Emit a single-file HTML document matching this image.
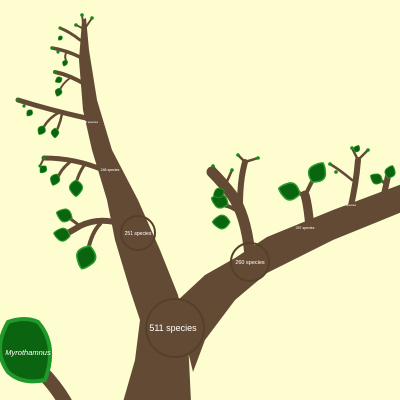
<!DOCTYPE html>
<html><head><meta charset="utf-8"><style>
html,body{margin:0;padding:0;background:#fefdd0;}
svg{display:block}
text{font-family:"Liberation Sans",sans-serif;fill:#fff;}
</style></head><body>
<svg width="400" height="400" viewBox="0 0 400 400">
<defs>
<path id="lp" d="M0,0 Q11,-6 8,-13 Q4,-20 0,-22 Q-4,-20 -8,-13 Q-11,-6 0,0Z" fill="#0b6510" stroke="#2b9b2b" stroke-width="1.5"/>
</defs>
<rect width="400" height="400" fill="#fefdd0"/>
<g fill="none" stroke="#634a34" stroke-linecap="round">
<path d="M125,225 Q100,216 80,226 Q70,232 62,236" stroke-width="6"/>
<path d="M80,226 Q72,220 64,214" stroke-width="3"/>
<path d="M100,224 Q92,232 88,250" stroke-width="4"/>
<path d="M103,170 Q75,158 44,158" stroke-width="5"/>
<path d="M70,162 Q60,170 57,180" stroke-width="3"/>
<path d="M85,164 Q78,174 76,184" stroke-width="3"/>
<path d="M44,158 L40,166" stroke-width="2"/>
<path d="M86,118 Q50,110 18,100" stroke-width="5"/>
<path d="M60,112 Q48,118 42,130" stroke-width="2.5"/>
<path d="M62,114 Q60,124 56,132" stroke-width="2.5"/>
<path d="M86,85 Q70,75 55,72" stroke-width="4"/>
<path d="M70,78 Q62,84 60,90" stroke-width="2"/>
<path d="M82,58 Q66,50 52,48" stroke-width="3.5"/>
<path d="M66,53 Q64,58 67,62" stroke-width="2"/>
<path d="M80,40 Q70,32 60,28" stroke-width="3"/>
<path d="M84,30 L82,15 M84,30 L92,18 M82,28 L76,25" stroke-width="2"/>
<path d="M250,255 Q246,215 232,195 Q222,182 212,172" stroke-width="11"/>
<path d="M240,205 Q240,180 245,162" stroke-width="6"/>
<path d="M225,186 L213,166 M245,162 L238,155 M245,162 L258,158 M225,186 L232,170" stroke-width="2.5"/>
<path d="M236,210 Q228,205 220,205" stroke-width="4"/>
<path d="M232,196 Q226,190 222,190" stroke-width="3"/>
<path d="M310,228 Q308,205 305,195" stroke-width="9"/>
<path d="M305,196 Q298,192 290,190 M305,196 Q310,185 314,178" stroke-width="4"/>
<path d="M350,210 Q356,185 358,160" stroke-width="6"/>
<path d="M352,180 Q340,170 330,164 M358,160 L352,148 M358,160 L368,150" stroke-width="2.5"/>
<path d="M383,198 Q386,186 388,176" stroke-width="6"/>
<path d="M386,184 L378,178" stroke-width="3"/>
<path d="M40,370 Q55,385 65,402" stroke-width="14"/>
</g>
<g fill="#634a34">
<path d="M123,402 L135,360 L140,320 L130,290 L115,240 L107,200 L92,150 L83,110 L79,60 L82,20 L86,18 L89,50 L97,100 L112,150 L138,200 L160,250 L178,295 L188,340 L191,402Z"/>
<path d="M176,302 L205,275 L235,258 L267,237 L333,210 L402,184 L402,212 L333,240 L267,273 L235,300 L205,340 L193,372Z"/>
</g>
<g>
<use href="#lp" transform="translate(90,246) rotate(200) scale(1.1)"/>
<use href="#lp" transform="translate(70,236) rotate(-80) scale(0.75)"/>
<use href="#lp" transform="translate(72,218) rotate(-70) scale(0.75)"/>
<use href="#lp" transform="translate(76,180) rotate(180) scale(0.75)"/>
<use href="#lp" transform="translate(57,174) rotate(200) scale(0.55)"/>
<use href="#lp" transform="translate(46,166) rotate(220) scale(0.4)"/>
<use href="#lp" transform="translate(55,128) rotate(180) scale(0.45)"/>
<use href="#lp" transform="translate(44,126) rotate(210) scale(0.45)"/>
<use href="#lp" transform="translate(32,110) rotate(220) scale(0.35)"/>
<use href="#lp" transform="translate(60,88) rotate(200) scale(0.4)"/>
<use href="#lp" transform="translate(62,78) rotate(240) scale(0.35)"/>
<use href="#lp" transform="translate(66,60) rotate(200) scale(0.3)"/>
<use href="#lp" transform="translate(62,36) rotate(220) scale(0.25)"/>
<use href="#lp" transform="translate(230,222) rotate(-90) scale(0.8)"/>
<use href="#lp" transform="translate(228,204) rotate(-70) scale(0.8)"/>
<use href="#lp" transform="translate(224,190) rotate(-120) scale(0.55)"/>
<use href="#lp" transform="translate(300,194) rotate(-75) scale(1)"/>
<use href="#lp" transform="translate(312,182) rotate(30) scale(1)"/>
<use href="#lp" transform="translate(382,182) rotate(-60) scale(0.6)"/>
<use href="#lp" transform="translate(388,178) rotate(20) scale(0.6)"/>
<use href="#lp" transform="translate(355,152) rotate(30) scale(0.35)"/>
</g>
<g fill="#138a1a">
<circle cx="82" cy="15" r="1.8"/><circle cx="92" cy="18" r="1.8"/><circle cx="76" cy="25" r="1.8"/>
<circle cx="60" cy="28" r="1.6"/><circle cx="52" cy="48" r="1.6"/><circle cx="58" cy="52" r="1.6"/>
<circle cx="55" cy="72" r="1.8"/><circle cx="18" cy="100" r="1.6"/><circle cx="24" cy="106" r="1.6"/>
<circle cx="40" cy="166" r="1.6"/><circle cx="44" cy="158" r="1.6"/>
<circle cx="213" cy="166" r="1.8"/><circle cx="238" cy="155" r="1.8"/><circle cx="258" cy="158" r="1.8"/><circle cx="232" cy="170" r="1.8"/>
<circle cx="330" cy="164" r="1.8"/><circle cx="352" cy="148" r="1.8"/><circle cx="368" cy="150" r="1.8"/><circle cx="336" cy="172" r="1.8"/>
</g>
<g fill="none" stroke="#55402c" stroke-width="2">
<circle cx="175" cy="328" r="29"/>
<circle cx="138" cy="233" r="17"/>
<circle cx="250" cy="262" r="19"/>
</g>
<text x="173" y="331" font-size="9" text-anchor="middle">511 species</text>
<text x="138" y="235" font-size="5" text-anchor="middle">251 species</text>
<text x="250" y="264" font-size="5.5" text-anchor="middle">260 species</text>
<text x="110" y="171" font-size="3.5" text-anchor="middle">248 species</text>
<text x="90" y="123" font-size="3" text-anchor="middle">245 species</text>
<text x="305" y="229" font-size="3.5" text-anchor="middle">257 species</text>
<text x="348" y="206" font-size="3" text-anchor="middle">256 species</text>
<g>
<path d="M45,380 Q58,345 38,322 Q25,316 8,322 Q-8,350 8,372 Q22,385 45,380Z" fill="#0b6510" stroke="#1f9a2a" stroke-width="4"/>
<text x="28" y="355" font-size="7.5" font-style="italic" text-anchor="middle">Myrothamnus</text>
</g>
</svg>
</body></html>
